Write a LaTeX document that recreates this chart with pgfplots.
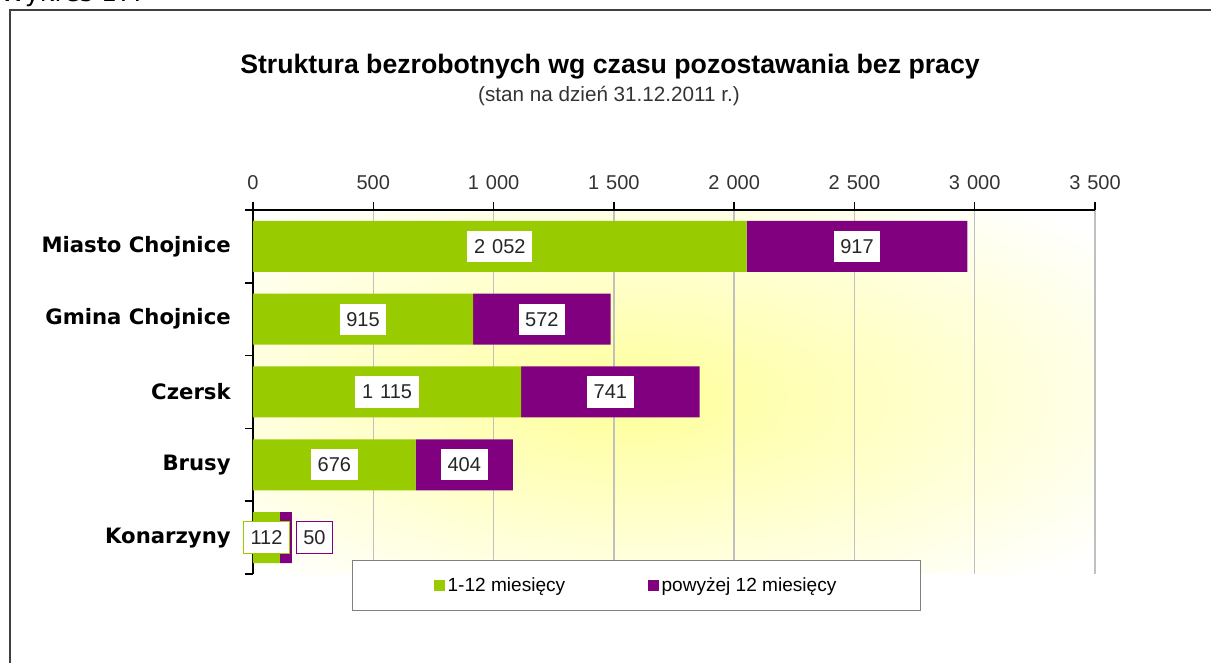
\documentclass[border=0pt]{standalone}
\usepackage{pgfplots}
\usepackage{pgfplotstable}
\pgfplotsset{compat=1.18}
\usepackage{fontspec}
\setmainfont{Liberation Sans}
\newfontfamily\dejavu{DejaVu Sans}
\definecolor{cGreen}{HTML}{99CC00}
\definecolor{cPurple}{HTML}{800080}
\definecolor{glowc}{HTML}{FFFF99}
\definecolor{gridc}{HTML}{C0C0C0}
\pgfdeclareradialshading{glow}{\pgfpoint{-3bp}{-1bp}}{color(0bp)=(glowc); color(34bp)=(white); color(50bp)=(white)}

\tikzset{
  labbase/.style={anchor=center, fill=white, text=black!85,
    font=\fontsize{15}{18}\selectfont, inner xsep=5pt, inner ysep=0pt,
    minimum height=23.5pt, line width=0.8pt},
}
\pgfplotsset{/pgf/number format/.cd, 1000 sep={\hspace{0.35em}}, assume math mode=true}

% y: category position (4 = Miasto Chojnice ... 0 = Konarzyny)
% g: 1-12 miesiecy, p: powyzej 12 miesiecy, dx: label offset (data units)
\pgfplotstableread{
y g p dx
4 2052 917 0
3 915 572 0
2 1115 741 0
1 676 404 0
0 112 50 118.6
}\data

\begin{document}
\begin{tikzpicture}[x=1pt,y=1pt]
\draw[black!75, line width=1.5pt] (7.2,-2) -- (7.2,489.75) -- (912,489.75);
\node[anchor=base west, inner sep=0pt, font=\dejavu\fontsize{19}{22}\selectfont] at (0,495.8) {Wykres 17.};
\node[anchor=base, inner sep=0pt, font=\bfseries\fontsize{20}{24}\selectfont] at (457.5,441.75) {Struktura bezrobotnych wg czasu pozostawania bez pracy};
\node[anchor=base, inner sep=0pt, font=\fontsize{15.5}{18}\selectfont, black!80] at (456.75,420.75) {(stan na dzień 31.12.2011 r.)};
\begin{axis}[
  at={(189.75pt,339.75pt)}, anchor=north west,
  scale only axis, width=631.5pt, height=273pt,
  xbar stacked, bar width=38.25pt,
  xmin=0, xmax=3500, ymin=-0.5, ymax=4.5,
  axis x line*=top, axis y line*=left,
  axis line style={black, line width=1.1pt},
  tick align=outside,
  every tick/.style={black, line width=1.1pt},
  major tick length=6pt,
  xtick={0,500,...,3500},
  ytick={-0.5,0.5,1.5,2.5,3.5,4.5},
  yticklabels={},
  extra y ticks={0,1,2,3,4},
  extra y tick labels={Konarzyny, Brusy, Czersk, Gmina Chojnice, Miasto Chojnice},
  extra y tick style={major tick length=0pt},
  xmajorgrids, major x grid style={gridc, line width=1.1pt},
  xticklabel style={font=\fontsize{15}{18}\selectfont, black!80, yshift=6pt},
  yticklabel style={font=\dejavu\bfseries\fontsize{15.9}{18}\selectfont, black, xshift=-13.2pt},
  axis background/.style={shade, shading=glow},
  clip=false,
  legend columns=2,
  legend style={at={(0.4555,-0.0316)}, anchor=center, draw=gray, fill=white, line width=0.8pt,
    font=\fontsize{14.3}{17}\selectfont, inner xsep=61pt, inner ysep=11pt,
    /tikz/every even column/.append style={column sep=60pt}},
  legend image code/.code={\fill[#1, draw=none] (0pt,-4.1pt) rectangle (8.25pt,4.1pt);},
]
\addplot[fill=cGreen, draw=none] table[x=g, y=y] {\data};
\addplot[fill=cPurple, draw=none] table[x=p, y=y] {\data};
\legend{1-12 miesięcy, powyżej 12 miesięcy}
\end{axis}
% data labels (same geometry, no stacking)
\begin{axis}[
  at={(189.75pt,339.75pt)}, anchor=north west,
  scale only axis, width=631.5pt, height=273pt,
  xmin=0, xmax=3500, ymin=-0.5, ymax=4.5,
  hide axis, clip=false,
  point meta=explicit,
  nodes near coords,
]
\addplot[only marks, mark=none, draw=none, restrict y to domain=0.5:4.5,
  every node near coord/.style={labbase}]
  table[x expr=0.5*\thisrow{g}, y=y, meta=g] {\data};
\addplot[only marks, mark=none, draw=none, restrict y to domain=0.5:4.5,
  every node near coord/.style={labbase}]
  table[x expr=\thisrow{g}+0.5*\thisrow{p}+\thisrow{dx}, y=y, meta=p] {\data};
\addplot[only marks, mark=none, draw=none, restrict y to domain=-0.5:0.5,
  every node near coord/.style={labbase, draw=cGreen}]
  table[x expr=0.5*\thisrow{g}, y=y, meta=g] {\data};
\addplot[only marks, mark=none, draw=none, restrict y to domain=-0.5:0.5,
  every node near coord/.style={labbase, draw=cPurple}]
  table[x expr=\thisrow{g}+0.5*\thisrow{p}+\thisrow{dx}, y=y, meta=p] {\data};
\end{axis}
\pgfresetboundingbox
\path[use as bounding box] (0,0) rectangle (908.25,497.25);
\end{tikzpicture}
\end{document}
